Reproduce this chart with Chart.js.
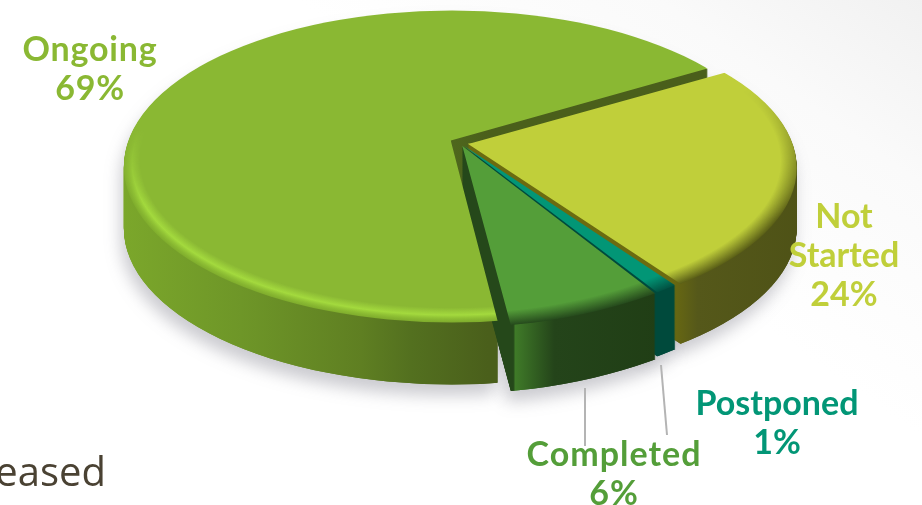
<!DOCTYPE html>
<html lang="en">
<head>
<meta charset="UTF-8">
<style>
    html, body { margin: 0; padding: 0; }
    body { width: 922px; height: 505px; overflow: hidden; position: relative;
           background: linear-gradient(215deg, #f1f1f1 0, #fafafa 16%, #ffffff 38%); }
    canvas { position: absolute; left: 0; top: 0; }
    .label { position: absolute; transform: translateX(-50%); text-align: center; white-space: nowrap;
             font: 700 34px/39px Lato, sans-serif; }
    #leftover { position: absolute; right: 816px; top: 445px; color: #4a4233;
                font: 400 40px/52px "Open Sans", sans-serif; }
</style>
<script src="https://cdn.jsdelivr.net/npm/chart.js"></script>
</head>
<body>
<canvas id="chart" width="922" height="505"></canvas>
<div id="leftover">eased</div>
<script>
    // data
    const categories = ['Not Started', 'Postponed', 'Completed', 'Ongoing'];
    const values = [24, 1, 6, 69];

    // styles, same order as categories
    const faceColors = ['#c0cf3a', '#029676', '#549e39', '#8ab833'];
    const textColors = ['#c0cf3a', '#029676', '#549e39', '#8ab833'];
    const explode = [14, 12, 14, 18];
    const depths = [60, 64, 66, 62];
    const labelX = [844, 777, 614, 90];
    const labelY = [195, 382, 433, 28];
    const labelSpacing = [0, 0, 1, 0.8];
    const bevels = [
        ['rgba(84,88,20,0)', 'rgba(84,88,20,.95)'],
        ['rgba(0,74,60,0)', 'rgba(0,74,60,.9)'],
        ['rgba(34,68,26,0)', 'rgba(34,68,26,.95)'],
        ['rgba(165,220,62,0)', 'rgba(165,220,62,.95)', 'rgba(120,165,40,.6)']
    ];
    // where the rim shading fades in, top to bottom of the picture
    const bevelFade = [[90, 220], [90, 220], [90, 220], [130, 205]];
    const wallStops = [
        [[662, '#6b6b10'], [690, '#55581a'], [797, '#4e5216']],
        [[640, '#004a3c'], [680, '#004a3c']],
        [[511, '#25481a'], [513, '#3f7a28'], [552, '#24441a'], [660, '#203e15']],
        [[124, '#7ca82b'], [250, '#6e9628'], [370, '#5f7f22'], [420, '#53701f'], [497, '#4a5f1b']]
    ];
    // small corrections to each slice's rim, the real picture has perspective
    const rimShiftY = [-2, 0, 0, 0];
    const rimShrink = [4, 0, 0, 0];
    const rimTilt = [0, -2, -2, 0];

    // perspective of the pie: wedges fan out from the apex, the rim is the ellipse
    const apexX = 460, apexY = 143;
    const rimX = 461, rimY = 169, rimRx = 328, rimRy = 156;
    const fanR = 560, fanTop = 0.53, fanBottom = 0.40;

    const W = 922, H = 505;
    function layer() {
        const c = document.createElement('canvas');
        c.width = W; c.height = H;
        return c.getContext('2d');
    }

    function rimOffset(arc, i) {
        const mid = (arc.startAngle + arc.endAngle) / 2;
        const m = explode[i] / 4, sx = fanR / arc.outerRadius;
        const s = Math.sin(mid) > 0 ? fanBottom : fanTop;
        return [Math.cos(mid) * m * sx, Math.sin(mid) * m * sx * s + rimShiftY[i]];
    }

    // draw one arc element through the perspective, shifted down by d
    function drawArc(g, arc, i, d, fill) {
        const sx = fanR / arc.outerRadius;
        const [ox, oy] = rimOffset(arc, i);
        const orig = arc.options;
        arc.options = { ...orig, backgroundColor: fill };
        g.save();
        g.beginPath();
        g.ellipse(rimX + ox, rimY + oy + d, rimRx, rimRy - rimShrink[i], rimTilt[i] * Math.PI / 180, 0, Math.PI * 2);
        g.clip();
        [[0, apexY + d, fanTop], [apexY + d, H, fanBottom]].forEach(([y0, y1, s]) => {
            g.save();
            g.beginPath();
            g.rect(0, y0, W, y1 - y0);
            g.clip();
            g.setTransform(sx, 0, 0, sx * s, apexX - sx * arc.x, apexY + d - sx * s * arc.y);
            arc.draw(g);
            g.restore();
        });
        g.restore();
        arc.options = orig;
    }

    function wallLayer(arc, i) {
        const g = layer();
        const sx = fanR / arc.outerRadius;
        const stops = wallStops[i];
        const toLocal = x => arc.x + (x - apexX) / sx;
        const x0 = stops[0][0], x1 = stops[stops.length - 1][0];
        const wall = g.createLinearGradient(toLocal(x0), 0, toLocal(x1), 0);
        stops.forEach(s => wall.addColorStop((s[0] - x0) / (x1 - x0), s[1]));
        for (let d = depths[i]; d >= 1; d--) drawArc(g, arc, i, d, wall);
        return g.canvas;
    }

    // top face with its soft rim
    function faceLayer(arc, i) {
        const f = layer();
        drawArc(f, arc, i, 0, faceColors[i]);
        const [ox, oy] = rimOffset(arc, i);

        const b = layer();
        b.save();
        b.translate(rimX + ox, rimY + oy);
        b.rotate(rimTilt[i] * Math.PI / 180);
        b.scale(rimRx, rimRy - rimShrink[i]);
        const rim = b.createRadialGradient(0, -0.045, 0.95, 0, 0, 1);
        bevels[i].forEach((c, k) => rim.addColorStop(k / (bevels[i].length - 1), c));
        b.fillStyle = rim;
        b.fillRect(-2, -2, 4, 4);
        b.restore();
        const fade = b.createLinearGradient(0, bevelFade[i][0], 0, bevelFade[i][1]);
        fade.addColorStop(0, 'rgba(0,0,0,0)');
        fade.addColorStop(1, 'rgba(0,0,0,1)');
        b.globalCompositeOperation = 'destination-in';
        b.fillStyle = fade;
        b.fillRect(0, 0, W, H);

        f.globalCompositeOperation = 'source-atop';
        f.drawImage(b.canvas, 0, 0);
        return f.canvas;
    }

    const pie3d = {
        id: 'pie3d',
        beforeDatasetsDraw(chart) {
            const ctx = chart.ctx;
            const arcs = chart.getDatasetMeta(0).data;
            const walls = arcs.map(wallLayer);
            const faces = arcs.map(faceLayer);
            // Ongoing's wall goes first and its face last, so it hides the walls of the others
            const stack = [walls[3], walls[0], faces[0], walls[1], faces[1], walls[2], faces[2], faces[3]];

            // shadow on the page first
            ctx.save();
            ctx.shadowColor = 'rgba(70,70,85,.28)';
            ctx.shadowBlur = 16;
            ctx.shadowOffsetX = -3;
            ctx.shadowOffsetY = 11;
            walls.forEach(s => ctx.drawImage(s, 0, 0));
            ctx.restore();

            // leader lines
            ctx.save();
            ctx.strokeStyle = '#b4b4b4';
            ctx.lineWidth = 2;
            [[585, 388, 585, 446], [661, 365, 667, 435]].forEach(l => {
                ctx.beginPath();
                ctx.moveTo(l[0], l[1]);
                ctx.lineTo(l[2], l[3]);
                ctx.stroke();
            });
            ctx.restore();

            stack.forEach(s => ctx.drawImage(s, 0, 0));
            return false;
        }
    };

    new Chart(document.getElementById('chart'), {
        type: 'pie',
        data: {
            labels: categories,
            datasets: [{ data: values, backgroundColor: faceColors, offset: explode, borderWidth: 0 }]
        },
        options: {
            responsive: false,
            animation: false,
            rotation: 62.3,
            plugins: { legend: { display: false }, tooltip: { enabled: false } }
        },
        plugins: [pie3d]
    });

    // data labels
    categories.forEach((name, i) => {
        const el = document.createElement('div');
        el.className = 'label';
        el.style.left = labelX[i] + 'px';
        el.style.top = labelY[i] + 'px';
        el.style.color = textColors[i];
        el.style.letterSpacing = labelSpacing[i] + 'px';
        el.innerHTML = name.replace(' ', '<br>') + '<br>' + values[i] + '%';
        document.body.appendChild(el);
    });
</script>
</body>
</html>
